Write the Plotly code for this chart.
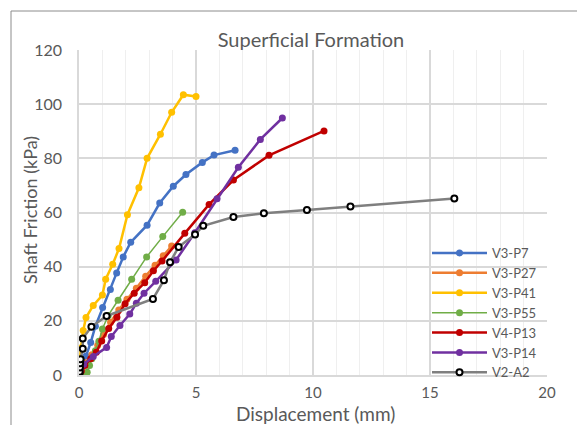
import plotly.graph_objects as go

# ---- data ----
p7_x = [0, 0.1, 0.3, 0.5, 0.7, 1.01, 1.34, 1.61, 1.89, 2.21, 2.91, 3.45, 4.03, 4.57, 5.27, 5.77, 6.67]
p7_y = [0, 3, 7, 12, 18, 24.9, 31.6, 37.7, 43.6, 49.0, 55.3, 63.5, 69.7, 74.0, 78.5, 81.2, 83.0]

p27_x = [0, 0.1, 0.3, 0.55, 0.8, 1.05, 1.35, 1.7, 2.05, 2.45, 2.85, 3.25, 3.6, 3.96]
p27_y = [0, 2, 4.5, 7.5, 11, 15, 19.5, 24, 28, 32, 36.5, 40.5, 44, 47.6]

p41_x = [0, 0.03, 0.08, 0.18, 0.30, 0.61, 1.0, 1.14, 1.44, 1.71, 2.07, 2.56, 2.91, 3.48, 3.96, 4.46, 5.0]
p41_y = [0, 5, 10, 16.4, 21.2, 25.7, 29.5, 35.4, 40.9, 46.7, 59.2, 69.1, 80.0, 88.9, 97.0, 103.5, 102.8]

p55_x = [0.3, 0.35, 0.45, 0.55, 0.7, 0.85, 1.0, 1.25, 1.67, 2.25, 2.89, 3.58, 4.43]
p55_y = [0, 1, 3.5, 6, 9, 12.5, 17, 22, 27.6, 35.4, 43.6, 51.1, 60.1]

p13_x = [0, 0.1, 0.25, 0.5, 0.74, 0.97, 1.27, 1.62, 1.97, 2.36, 2.81, 3.18, 3.55, 4.52, 5.56, 6.6, 8.12, 10.47]
p13_y = [0, 1.5, 3.5, 6, 8.4, 12.6, 17.2, 21.3, 26.3, 30.2, 34.1, 38.5, 42.1, 52.3, 63.0, 72.0, 81.1, 90.1]

p14_x = [0, 0.05, 0.2, 0.61, 1.18, 1.38, 1.75, 2.17, 2.45, 2.78, 3.28, 4.15, 4.95, 5.90, 6.81, 7.75, 8.69]
p14_y = [0, 2, 4, 6.8, 10.2, 14.2, 18.3, 22.5, 26.5, 30.2, 34.6, 42.5, 52.5, 65.1, 76.7, 87.0, 94.9]

a2_x = [0.02, 0.03, 0.04, 0.05, 0.07, 0.16, 0.16, 0.53, 1.18, 3.16, 3.63, 3.89, 4.26, 4.96, 5.31, 6.6, 7.9, 9.74, 11.6, 16.04]
a2_y = [0.4, 1.2, 2.8, 4.3, 5.8, 9.7, 13.5, 17.8, 21.8, 28.1, 35.0, 41.6, 47.3, 51.9, 55.1, 58.3, 59.7, 60.9, 62.2, 65.2]

x_ticks = [0, 5, 10, 15, 20]
y_ticks = [0, 20, 40, 60, 80, 100, 120]

series = [
    ("V3-P7", p7_x, p7_y, "#4472C4", 2.5),
    ("V3-P27", p27_x, p27_y, "#ED7D31", 2.5),
    ("V3-P41", p41_x, p41_y, "#FFC000", 2.5),
    ("V3-P55", p55_x, p55_y, "#70AD47", 1.5),
    ("V4-P13", p13_x, p13_y, "#C00000", 2.5),
    ("V3-P14", p14_x, p14_y, "#7030A0", 2.5),
]

FONT = "Lato, 'Liberation Sans', sans-serif"
TXT = "#595959"

fig = go.Figure()
for name, xs, ys, col, lw in series:
    fig.add_trace(go.Scatter(
        x=xs, y=ys, name=name, mode="lines+markers",
        line=dict(color=col, width=lw),
        marker=dict(color=col, size=7, line=dict(width=0)),
    ))
fig.add_trace(go.Scatter(
    x=a2_x, y=a2_y, name="V2-A2", mode="lines+markers",
    line=dict(color="#7F7F7F", width=2.5),
    marker=dict(color="white", size=6, line=dict(color="black", width=2)),
))

L, R, T, B = 79, 30, 50, 50
W, H = 577, 425
pw, ph = W - L - R, H - T - B

def px_x(p):
    return (p - L) / pw

def px_y(p):
    return (H - B - p) / ph

fig.update_layout(
    width=W, height=H,
    margin=dict(l=L, r=R, t=T, b=B, autoexpand=False),
    paper_bgcolor="white", plot_bgcolor="white",
    font=dict(family=FONT, color=TXT, size=13),
    title=dict(text="Superficial Formation", x=px_x(311), xanchor="center", xref="paper",
               y=1 - 40 / H, yanchor="middle", font=dict(size=20, color=TXT)),
    showlegend=True,
    legend=dict(x=px_x(427), y=px_y(238), xanchor="left", yanchor="top",
                bgcolor="rgba(0,0,0,0)", font=dict(size=13, color=TXT),
                itemwidth=55, tracegroupgap=0),
    xaxis=dict(range=[0, 20], tickvals=x_ticks, ticktext=[str(v) for v in x_ticks],
               showgrid=True, gridcolor="#D9D9D9", gridwidth=1.5,
               minor=dict(dtick=1, showgrid=True, gridcolor="#EFEFEF", gridwidth=1),
               showline=True, linecolor="#D9D9D9", linewidth=1.5,
               zeroline=False, ticks="", ticklabelstandoff=3,
               tickfont=dict(size=15, color=TXT), fixedrange=True),
    yaxis=dict(range=[0, 120], tickvals=y_ticks, ticktext=[str(v) for v in y_ticks],
               showgrid=True, gridcolor="#D9D9D9", gridwidth=1.5,
               showline=True, linecolor="#D9D9D9", linewidth=1.5,
               zeroline=False, ticks="", ticklabelstandoff=12,
               tickfont=dict(size=16, color=TXT), fixedrange=True),
    annotations=[
        dict(text="Displacement (mm)", x=px_x(315), y=px_y(413), xref="paper", yref="paper",
             xanchor="center", yanchor="middle", showarrow=False, font=dict(size=19, color=TXT)),
        dict(text="Shaft Friction (kPa)", x=px_x(30), y=px_y(210), xref="paper", yref="paper",
             xanchor="center", yanchor="middle", showarrow=False, textangle=-90,
             font=dict(size=18, color=TXT)),
    ],
    shapes=[
        dict(type="rect", xref="paper", yref="paper",
             x0=px_x(11), x1=px_x(590), y0=px_y(11), y1=px_y(440),
             line=dict(color="#8C8C8C", width=1), fillcolor="rgba(0,0,0,0)", layer="below"),
    ],
)

fig.write_html("out.html", config={"displayModeBar": False},
               post_script="document.body.style.margin='0';document.body.style.overflow='hidden';")
